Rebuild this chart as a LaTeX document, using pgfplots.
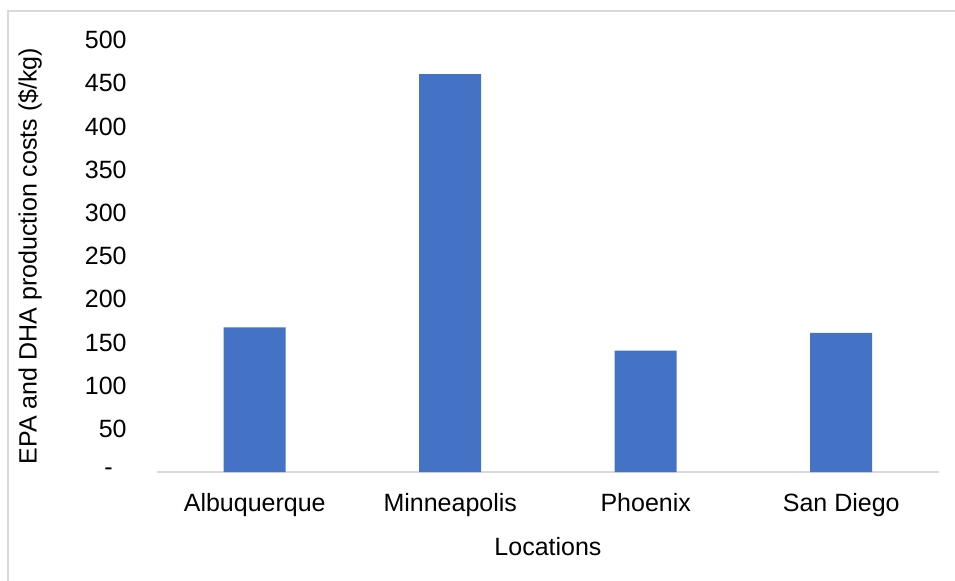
\documentclass[border=0pt]{standalone}
\usepackage{pgfplots}
\pgfplotsset{compat=1.18}
\usepackage{fontspec}
\setmainfont{Liberation Sans}
\definecolor{barblue}{HTML}{4472C4}
\definecolor{axgray}{HTML}{D9D9D9}
\begin{document}
\begin{tikzpicture}
\useasboundingbox (-78.5pt,-54pt) rectangle (399pt,236pt);
\begin{axis}[
  at={(0,0)}, anchor=south west,
  scale only axis,
  width=391pt, height=216pt,
  xmin=-0.5, xmax=3.5, ymin=0, ymax=500,
  font=\fontsize{12.5}{15}\selectfont,
  axis x line*=bottom, axis y line*=left,
  x axis line style={draw=axgray, line width=1pt, -},
  y axis line style={draw=none, -},
  xtick={0,1,2,3},
  xticklabels={Albuquerque,Minneapolis,Phoenix,San Diego},
  xticklabel style={anchor=base, yshift=-19.5pt, inner sep=0pt},
  ytick={0,50,...,500},
  yticklabels={{-\kern7pt},50,100,150,200,250,300,350,400,450,500},
  yticklabel style={anchor=east, inner sep=0pt, xshift=-15pt},
  major tick length=0pt,
  xlabel={Locations},
  xlabel style={at={(axis description cs:0.5,0)}, anchor=center, yshift=-37.5pt},
  ylabel={EPA and DHA production costs (\$/kg)},
  ylabel style={at={(axis description cs:-0.1624,0.5)}, anchor=center},
  clip=false,
]
\addplot[ybar, bar width=31pt, fill=barblue, draw=none] coordinates {
  (0,167.5) (1,460.6) (2,140.4) (3,160.9)
};
\end{axis}
\draw[axgray, line width=0.8pt] (-74.5pt,-80pt) -- (-74.5pt,230.5pt) -- (420pt,230.5pt);
\end{tikzpicture}
\end{document}
